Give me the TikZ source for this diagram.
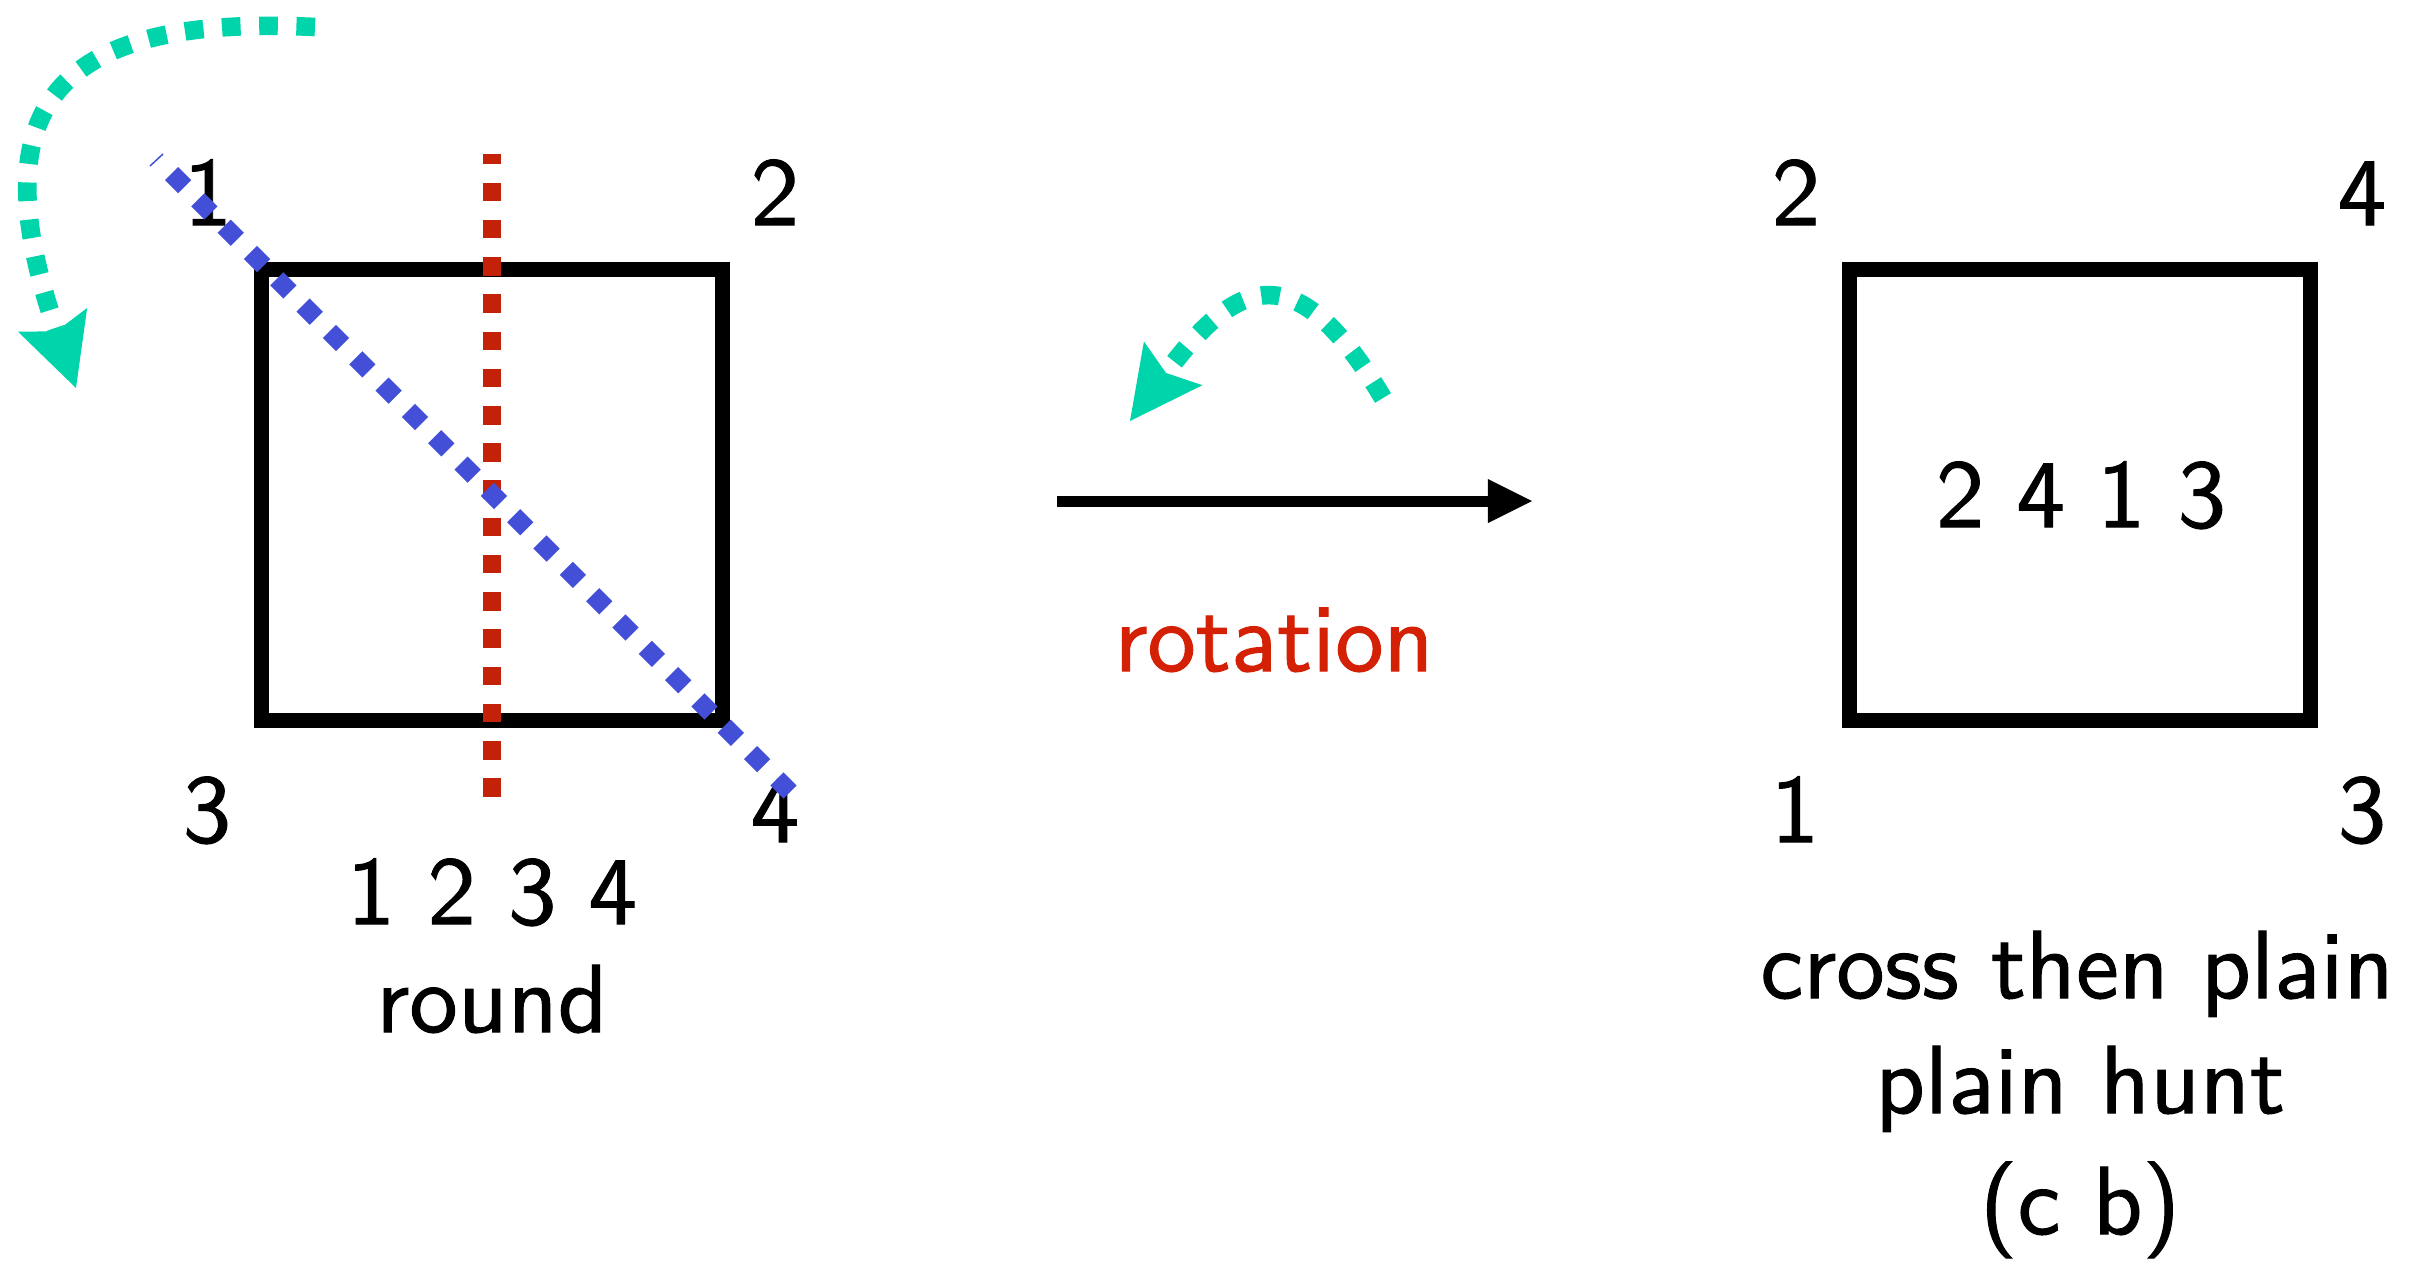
\documentclass[tikz,border=0pt]{standalone}
\usepackage{fontspec}
\newfontfamily\refsf{lmsans10-regular.otf}[FakeBold=1]
\usetikzlibrary{arrows.meta}
\definecolor{turq}{RGB}{0,212,170}
\definecolor{diagblue}{RGB}{67,79,214}
\definecolor{axisred}{RGB}{196,34,8}
\definecolor{labred}{RGB}{212,32,5}
\tikzset{
  lab/.style={font=\refsf\fontsize{27.5}{33}\selectfont, inner sep=0pt, anchor=base},
  sqbox/.style={draw=black, line width=0.15cm, minimum width=4.6cm, minimum height=4.5cm, inner sep=0pt},
  sqdash/.style={line width=0.186cm, line cap=butt, dash pattern=on 0.186cm off 0.186cm},
  turqtip/.style={-{Stealth[length=0.72cm, width=0.73cm, inset=0.12cm, line width=0pt]}},
}
\begin{document}
\begin{tikzpicture}[x=0.01cm, y=-0.01cm]
\useasboundingbox (0,0) rectangle (2418,1265);
% left square and labels
\node[sqbox] (sqL) at (492,495) {};
\node[lab] (l1) at (208,225) {1};
\node[lab] (l2) at (775,225) {2};
\node[lab] (l3) at (207,842) {3};
\node[lab] (l4) at (775,842) {4};
\node[lab] (row) at (492,924) {1 2 3 4};
\node[lab] (rnd) at (492,1032) {round};
% red vertical axis
\coordinate (rA) at (492,154);
\coordinate (rB) at (492,799);
\draw[axisred, sqdash, dash phase=0.086cm] (rA) -- (rB);
% blue diagonal axis
\coordinate (bA) at (171.5,173.5);
\coordinate (bB) at (791.5,793.5);
\coordinate (tA) at (150,166);
\coordinate (tB) at (163,154);
\draw[diagblue, sqdash] (bA) -- (bB);
\draw[diagblue, line width=0.015cm] (tA) -- (tB);
% green arc top left
\coordinate (g1s) at (315,27);
\coordinate (g1e) at (76,388);
\draw[turq, sqdash, turqtip] (g1s) .. controls (35,13) and (-15,123) .. (g1e);
% middle arrow and rotation
\coordinate (aS) at (1057,501);
\coordinate (aE) at (1532,501);
\draw[line width=0.11cm, -{Triangle[length=0.44cm, width=0.44cm, line width=0pt]}] (aS) -- (aE);
\node[lab, text=labred] (rot) at (1274,671) {rotation};
\coordinate (g2s) at (1383,398);
\coordinate (g2e) at (1130,421);
\draw[turq, sqdash, turqtip] (g2s) .. controls (1296,252) and (1237,278) .. (g2e);
% right square and labels
\node[sqbox] (sqR) at (2080,495) {};
\node[lab] (m) at (2081,527) {2 4 1 3};
\node[lab] (r2) at (1796,225) {2};
\node[lab] (r4) at (2362,225) {4};
\node[lab] (r1) at (1795,842) {1};
\node[lab] (r3) at (2362,842) {3};
\node[lab] (c1) at (2077,998) {cross then plain};
\node[lab] (c2) at (2080,1113) {plain hunt};
\node[lab] (c3) at (2080,1234) {(c b)};
\end{tikzpicture}
\end{document}
